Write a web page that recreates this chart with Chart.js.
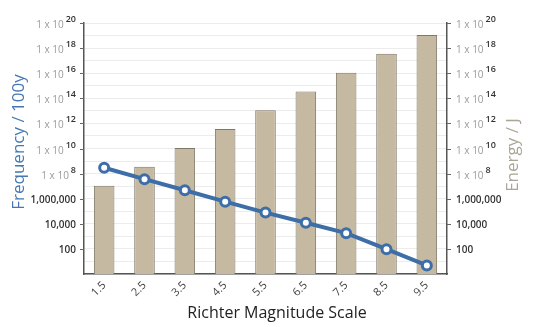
<!DOCTYPE html>
<html>
<head>
<meta charset="utf-8">
<style>
  html, body { margin: 0; padding: 0; background: #ffffff; }
  #wrap { width: 543px; height: 327px; position: relative; }
</style>
<script src="https://cdn.jsdelivr.net/npm/chart.js@4/dist/chart.umd.min.js"></script>
</head>
<body>
<div id="wrap"><canvas id="c" width="543" height="327"></canvas></div>
<script>
// ---- data ----
const categories = ["1.5", "2.5", "3.5", "4.5", "5.5", "6.5", "7.5", "8.5", "9.5"];
const energyJ = [1.1e7, 3.5e8, 1.1e10, 3.5e11, 1.1e13, 3.5e14, 1.1e16, 3.5e17, 1.1e19];
const frequencyPer100y = [2.9e8, 3.6e7, 4.7e6, 5.8e5, 7.8e4, 1.2e4, 1800, 95, 4.8];
const yTickValues = [1e2, 1e4, 1e6, 1e8, 1e10, 1e12, 1e14, 1e16, 1e18, 1e20];
const yTickLabels = ["100", "10,000", "1,000,000", "1 x 10^8", "1 x 10^10", "1 x 10^12", "1 x 10^14", "1 x 10^16", "1 x 10^18", "1 x 10^20"];
const gridDecades = [0,1,2,3,4,5,6,7,8,9,10,11,12,13,14,15,16,17,18,19,20];
const xTitle = "Richter Magnitude Scale";
const yLeftTitle = "Frequency / 100y";
const yRightTitle = "Energy / J";

const FONT = "'Open Sans', 'DejaVu Sans', sans-serif";
const BLUE = "#3d6ea8";
const BEIGE = "#c6b9a1";

function decadeTicks(scale) {
  scale.ticks = gridDecades.map(e => ({ value: Math.pow(10, e) }));
}

const customLabels = {
  id: 'customLabels',
  afterDraw(chart) {
    const ctx = chart.ctx;
    const ca = chart.chartArea;
    const yl = chart.scales.y;
    const yr = chart.scales.y1;
    ctx.save();
    yTickValues.forEach((v, i) => {
      const py = Math.round(yl.getPixelForValue(v)) + 0.5;
      const pyr = Math.round(yr.getPixelForValue(v)) + 0.5;
      ctx.strokeStyle = "#666";
      ctx.lineWidth = 1;
      ctx.beginPath();
      ctx.moveTo(ca.left - 4, py); ctx.lineTo(ca.left, py);
      ctx.moveTo(ca.right, pyr); ctx.lineTo(ca.right + 4, pyr);
      ctx.stroke();
      const lab = yTickLabels[i];
      drawTickLabel(ctx, lab, ca.left - 8, py, 'right');
      drawTickLabel(ctx, lab, ca.right + 9, pyr, 'left');
    });
    ctx.textBaseline = 'middle';
    ctx.textAlign = 'center';
    ctx.font = "16px " + FONT;
    ctx.fillStyle = "#222";
    ctx.fillText(xTitle, 277, 313);
    ctx.font = "17px " + FONT;
    ctx.save();
    ctx.translate(19, 142);
    ctx.rotate(-Math.PI / 2);
    ctx.fillStyle = "#4677b3";
    ctx.fillText(yLeftTitle, 0, 0);
    ctx.restore();
    ctx.save();
    ctx.translate(513, 155);
    ctx.rotate(-Math.PI / 2);
    ctx.fillStyle = "#aaa595";
    ctx.fillText(yRightTitle, 0, 0);
    ctx.restore();
    ctx.restore();
  }
};

function drawTickLabel(ctx, lab, x, y, align) {
  ctx.textBaseline = 'middle';
  if (lab.indexOf('^') < 0) {
    ctx.font = "600 10px " + FONT;
    ctx.fillStyle = "#333";
    ctx.textAlign = align;
    ctx.fillText(lab, x, y + 0.5);
    return;
  }
  const parts = lab.split('^');
  const base = parts[0], sup = parts[1];
  ctx.font = "10px " + FONT;
  const wb = ctx.measureText(base).width;
  ctx.font = "600 9px " + FONT;
  const ws = ctx.measureText(sup).width;
  const gap = 2;
  let start = align === 'right' ? x - (wb + gap + ws) : x;
  ctx.textAlign = 'left';
  ctx.font = "10px " + FONT;
  ctx.fillStyle = "#9a9a9a";
  ctx.fillText(base, start, y + 2);
  ctx.font = "600 9px " + FONT;
  ctx.fillStyle = "#333";
  ctx.fillText(sup, start + wb + gap, y - 4);
}

new Chart(document.getElementById('c'), {
  data: {
    labels: categories,
    datasets: [
      {
        type: 'line',
        label: yLeftTitle,
        data: frequencyPer100y,
        yAxisID: 'y',
        borderColor: BLUE,
        borderWidth: 4,
        pointRadius: 4.5,
        pointBorderWidth: 3,
        pointBackgroundColor: '#ffffff',
        pointBorderColor: BLUE,
        tension: 0,
        order: 0
      },
      {
        type: 'bar',
        label: yRightTitle,
        data: energyJ,
        yAxisID: 'y1',
        backgroundColor: BEIGE,
        borderColor: '#7f7768',
        borderWidth: 1,
        barPercentage: 0.51,
        categoryPercentage: 1.0,
        order: 1
      }
    ]
  },
  options: {
    responsive: false,
    animation: false,
    events: [],
    layout: { padding: { top: 23, left: 0, right: 0, bottom: 0 } },
    plugins: { legend: { display: false }, tooltip: { enabled: false } },
    scales: {
      x: {
        type: 'category',
        grid: { display: false, drawTicks: false },
        border: { display: true, color: '#555', width: 1.5 },
        ticks: {
          minRotation: 45, maxRotation: 45, padding: 5,
          color: '#444', font: { family: FONT, size: 11 }
        },
        afterFit(scale) { scale.height = 53; }
      },
      y: {
        type: 'logarithmic',
        position: 'left',
        min: 1, max: 1e20,
        afterBuildTicks: decadeTicks,
        grid: { color: '#ececec', lineWidth: 1, drawTicks: false },
        border: { display: true, color: '#555', width: 1.5 },
        ticks: { display: false },
        afterFit(scale) { scale.width = 84; }
      },
      y1: {
        type: 'logarithmic',
        position: 'right',
        min: 1, max: 1e20,
        afterBuildTicks: decadeTicks,
        grid: { display: false, drawTicks: false },
        border: { display: true, color: '#555', width: 1.5 },
        ticks: { display: false },
        afterFit(scale) { scale.width = 96; }
      }
    }
  },
  plugins: [customLabels]
});
</script>
</body>
</html>
